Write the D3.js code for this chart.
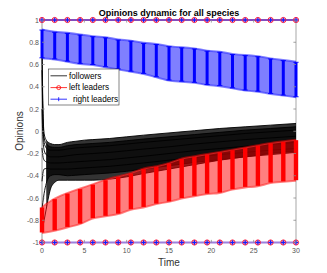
<!DOCTYPE html>
<html><head><meta charset="utf-8">
<script src="https://cdn.jsdelivr.net/npm/d3@7"></script>
<style>html,body{margin:0;padding:0;background:#fff;}svg{display:block;}</style>
</head><body><svg id="c" width="327" height="273"></svg>
<script>
// ---- data ----
const markerTimes = [0,1.5,3,4.5,6,7.5,9,10.5,12,13.5,15,16.5,18,19.5,21,22.5,24,25.5,27,28.5,30];
const leftTop = [-0.685,-0.61,-0.56,-0.52,-0.48,-0.44,-0.41,-0.38,-0.34,-0.32,-0.29,-0.25,-0.23,-0.21,-0.19,-0.17,-0.15,-0.13,-0.11,-0.095,-0.08];
const leftBot = [-0.91,-0.89,-0.86,-0.83,-0.78,-0.76,-0.74,-0.70,-0.68,-0.65,-0.63,-0.60,-0.58,-0.56,-0.55,-0.52,-0.50,-0.49,-0.46,-0.45,-0.44];
const rightTop = [0.91,0.89,0.88,0.865,0.85,0.84,0.82,0.81,0.79,0.78,0.76,0.75,0.74,0.72,0.71,0.69,0.68,0.67,0.65,0.635,0.62];
const rightBot = [0.66,0.65,0.63,0.61,0.60,0.58,0.56,0.54,0.52,0.49,0.46,0.45,0.44,0.42,0.41,0.39,0.37,0.36,0.34,0.325,0.31];
const upperLeaders = [1,1,1,1,1,1,1,1,1,1,1,1,1,1,1,1,1,1,1,1,1];
const lowerLeaders = [-1,-1,-1,-1,-1,-1,-1,-1,-1,-1,-1,-1,-1,-1,-1,-1,-1,-1,-1,-1,-1];

const followerTimes = [0,0.1,0.25,0.5,0.75,1,1.5,2,3,4,5,6,8,10,12,15,18,21,24,27,30];
const followers = [
  [0.85,0.25,-0.02,-0.08,-0.10,-0.11,-0.12,-0.12,-0.10,-0.09,-0.08,-0.075,-0.065,-0.05,-0.035,-0.015,0.005,0.025,0.04,0.055,0.07],
  [0.70,0.18,-0.06,-0.11,-0.13,-0.14,-0.145,-0.145,-0.13,-0.12,-0.115,-0.11,-0.10,-0.085,-0.07,-0.05,-0.03,-0.01,0.01,0.025,0.04],
  [0.55,0.10,-0.10,-0.15,-0.165,-0.17,-0.17,-0.17,-0.16,-0.15,-0.145,-0.14,-0.13,-0.115,-0.10,-0.08,-0.06,-0.04,-0.02,-0.005,0.01],
  [0.20,-0.05,-0.17,-0.21,-0.225,-0.23,-0.23,-0.23,-0.22,-0.21,-0.205,-0.20,-0.19,-0.175,-0.16,-0.14,-0.115,-0.095,-0.075,-0.06,-0.045],
  [-0.15,-0.22,-0.26,-0.275,-0.28,-0.285,-0.285,-0.285,-0.28,-0.275,-0.27,-0.265,-0.255,-0.24,-0.225,-0.20,-0.175,-0.155,-0.135,-0.12,-0.10],
  [-0.45,-0.38,-0.34,-0.335,-0.335,-0.34,-0.34,-0.34,-0.34,-0.335,-0.33,-0.325,-0.315,-0.30,-0.285,-0.26,-0.235,-0.21,-0.19,-0.17,-0.155],
  [-0.70,-0.64,-0.56,-0.47,-0.42,-0.40,-0.39,-0.39,-0.40,-0.395,-0.39,-0.385,-0.375,-0.36,-0.34,-0.31,-0.28,-0.255,-0.23,-0.21,-0.19],
  [-0.88,-0.86,-0.80,-0.70,-0.60,-0.52,-0.46,-0.44,-0.44,-0.44,-0.44,-0.44,-0.43,-0.41,-0.38,-0.34,-0.30,-0.26,-0.23,-0.20,-0.18]
];
const xTicks = [0,5,10,15,20,25,30];
const yTicks = [-1,-0.8,-0.6,-0.4,-0.2,0,0.2,0.4,0.6,0.8,1];
const yTickLabels = ["-1","-0.8","-0.6","-0.4","-0.2","0","0.2","0.4","0.6","0.8","1"];
const legendLabels = ["followers","left leaders","right leaders"];
const titleText = "Opinions dynamic for all species";

// ---- drawing ----
const FONT = "'Liberation Sans', Arial, Helvetica, sans-serif";
const svg = d3.select("#c");
const x = d3.scaleLinear().domain([0,30]).range([42,296]);
const y = d3.scaleLinear().domain([-1,1]).range([242.5,20]);

// axis box
const box = svg.append("g");
box.append("line").attr("x1",x(0)).attr("x2",x(0)).attr("y1",y(-1)).attr("y2",y(1)).attr("stroke","#9a9a9a").attr("stroke-width",1);
box.append("line").attr("x1",x(30)).attr("x2",x(30)).attr("y1",y(-1)).attr("y2",y(1)).attr("stroke","#c8c8c8").attr("stroke-width",1.6);

// followers
const fIdx = followerTimes.map((t,i)=>i);
const fBandIdx = fIdx.filter(i=>followerTimes[i]>=0.5);
const fArea = (a,b)=>d3.area().x(i=>x(followerTimes[i])).y0(i=>y(followers[b][i])).y1(i=>y(followers[a][i])).curve(d3.curveMonotoneX);
svg.append("path").datum(fBandIdx).attr("d",fArea(0,7)).attr("fill","#000").attr("fill-opacity",0.8);
svg.append("path").datum(fBandIdx).attr("d",fArea(1,6)).attr("fill","#000").attr("fill-opacity",0.7);
const fLine = d3.line().x((d,i)=>x(followerTimes[i])).y(d=>y(d)).curve(d3.curveMonotoneX);
svg.append("g").selectAll("path").data(followers).join("path")
  .attr("d",fLine).attr("fill","none").attr("stroke","#000").attr("stroke-width",0.9);

// left leaders (red)
const mIdx = markerTimes.map((t,i)=>i);
const bandArea = (top,bot)=>d3.area().x(i=>x(markerTimes[i])).y0(i=>y(bot[i])+1.5).y1(i=>y(top[i])-1.5).curve(d3.curveMonotoneX);
const edgeLine = arr=>d3.line().x(i=>x(markerTimes[i])).y(i=>y(arr[i])).curve(d3.curveMonotoneX);
svg.append("path").datum(mIdx).attr("d",bandArea(leftTop,leftBot)).attr("fill","#ff0000").attr("fill-opacity",0.5);
svg.append("path").datum(mIdx).attr("d",edgeLine(leftTop)).attr("fill","none").attr("stroke","#ff3030").attr("stroke-width",0.6);
svg.append("path").datum(mIdx).attr("d",edgeLine(leftBot)).attr("fill","none").attr("stroke","#ff3030").attr("stroke-width",0.6);
svg.append("g").selectAll("line").data(mIdx).join("line")
  .attr("x1",i=>x(markerTimes[i])).attr("x2",i=>x(markerTimes[i]))
  .attr("y1",i=>y(leftTop[i])).attr("y2",i=>y(leftBot[i]))
  .attr("stroke","#ff0000").attr("stroke-width",4.4);

// right leaders (blue)
svg.append("path").datum(mIdx).attr("d",bandArea(rightTop,rightBot)).attr("fill","#0000ff").attr("fill-opacity",0.5);
svg.append("path").datum(mIdx).attr("d",edgeLine(rightTop)).attr("fill","none").attr("stroke","#3030ff").attr("stroke-width",0.6);
svg.append("path").datum(mIdx).attr("d",edgeLine(rightBot)).attr("fill","none").attr("stroke","#3030ff").attr("stroke-width",0.6);
const bb = svg.append("g");
bb.selectAll("line.v").data(mIdx).join("line").attr("class","v")
  .attr("x1",i=>x(markerTimes[i])).attr("x2",i=>x(markerTimes[i]))
  .attr("y1",i=>y(rightTop[i])).attr("y2",i=>y(rightBot[i]))
  .attr("stroke","#0000ff").attr("stroke-width",3);
[rightTop,rightBot].forEach(arr=>{
  bb.append("g").selectAll("line").data(mIdx).join("line")
    .attr("x1",i=>x(markerTimes[i])-2.6).attr("x2",i=>x(markerTimes[i])+2.6)
    .attr("y1",i=>y(arr[i])).attr("y2",i=>y(arr[i]))
    .attr("stroke","#0000ff").attr("stroke-width",0.9);
});

// extreme leaders at +1 / -1
function extreme(arr,color,w){
  const g = svg.append("g");
  g.append("path").datum(mIdx).attr("d",d3.line().x(i=>x(markerTimes[i])).y(i=>y(arr[i])))
    .attr("fill","none").attr("stroke",color).attr("stroke-width",w);
  g.selectAll("circle").data(mIdx).join("circle")
    .attr("cx",i=>x(markerTimes[i])).attr("cy",i=>y(arr[i])).attr("r",2.6)
    .attr("fill","#ff8090").attr("fill-opacity",0.5).attr("stroke","#ff2040").attr("stroke-width",1);
  g.selectAll("line.h").data(mIdx).join("line").attr("class","h")
    .attr("x1",i=>x(markerTimes[i])-2.2).attr("x2",i=>x(markerTimes[i])+2.2)
    .attr("y1",i=>y(arr[i])).attr("y2",i=>y(arr[i])).attr("stroke","#1020ff").attr("stroke-width",1.2);
  g.selectAll("line.v").data(mIdx).join("line").attr("class","v")
    .attr("x1",i=>x(markerTimes[i])).attr("x2",i=>x(markerTimes[i]))
    .attr("y1",i=>y(arr[i])-2.2).attr("y2",i=>y(arr[i])+2.2).attr("stroke","#1020ff").attr("stroke-width",1.2);
}
extreme(lowerLeaders,"#9c80de",2);
extreme(upperLeaders,"#5a10a8",1.4);

// ticks
const tk = svg.append("g").attr("stroke","#8a8a8a").attr("stroke-width",0.8);
yTicks.forEach(v=>{
  tk.append("line").attr("x1",x(0)).attr("x2",x(0)+2.6).attr("y1",y(v)).attr("y2",y(v));
  tk.append("line").attr("x1",x(30)).attr("x2",x(30)-2.6).attr("y1",y(v)).attr("y2",y(v));
});
xTicks.forEach(v=>{
  tk.append("line").attr("x1",x(v)).attr("x2",x(v)).attr("y1",y(-1)).attr("y2",y(-1)-2.6);
  tk.append("line").attr("x1",x(v)).attr("x2",x(v)).attr("y1",y(1)).attr("y2",y(1)+2.6);
});
svg.append("g").selectAll("text").data(yTicks).join("text")
  .attr("x",x(0)-3).attr("y",v=>y(v)+2.5).attr("text-anchor","end")
  .attr("font-family",FONT).attr("font-size",7).attr("fill","#555")
  .text((v,i)=>yTickLabels[i]);
svg.append("g").selectAll("text").data(xTicks).join("text")
  .attr("x",v=>x(v)).attr("y",253).attr("text-anchor","middle")
  .attr("font-family",FONT).attr("font-size",7).attr("fill","#555")
  .text(v=>String(v));

// title & labels
svg.append("text").attr("x",169).attr("y",15.5).attr("text-anchor","middle")
  .attr("font-family",FONT).attr("font-size",9).attr("font-weight","bold").attr("fill","#000").text(titleText);
svg.append("text").attr("x",169).attr("y",266).attr("text-anchor","middle")
  .attr("font-family",FONT).attr("font-size",10).attr("fill","#333").text("Time");
svg.append("text").attr("transform","translate(23,131) rotate(-90)").attr("text-anchor","middle")
  .attr("font-family",FONT).attr("font-size",10).attr("fill","#333").text("Opinions");

// legend
const lg = svg.append("g");
lg.append("rect").attr("x",48.5).attr("y",69).attr("width",70.5).attr("height",36)
  .attr("fill","#fff").attr("stroke","#333").attr("stroke-width",0.6);
const ly = [75.8,87.6,99.2];
const lc = ["#000","#ff0000","#0000ff"];
legendLabels.forEach((lab,i)=>{
  lg.append("line").attr("x1",50.5).attr("x2",67).attr("y1",ly[i]).attr("y2",ly[i]).attr("stroke",lc[i]).attr("stroke-width",0.8);
  lg.append("text").attr("x",i===2?73:69).attr("y",ly[i]+2.8).attr("font-family",FONT).attr("font-size",8.2).attr("fill","#000").text(lab);
});
lg.append("circle").attr("cx",58.7).attr("cy",ly[1]).attr("r",2).attr("fill","none").attr("stroke","#ff0000").attr("stroke-width",0.8);
lg.append("line").attr("x1",58.7).attr("x2",58.7).attr("y1",ly[2]-2).attr("y2",ly[2]+2).attr("stroke","#0000ff").attr("stroke-width",0.8);
</script></body></html>
